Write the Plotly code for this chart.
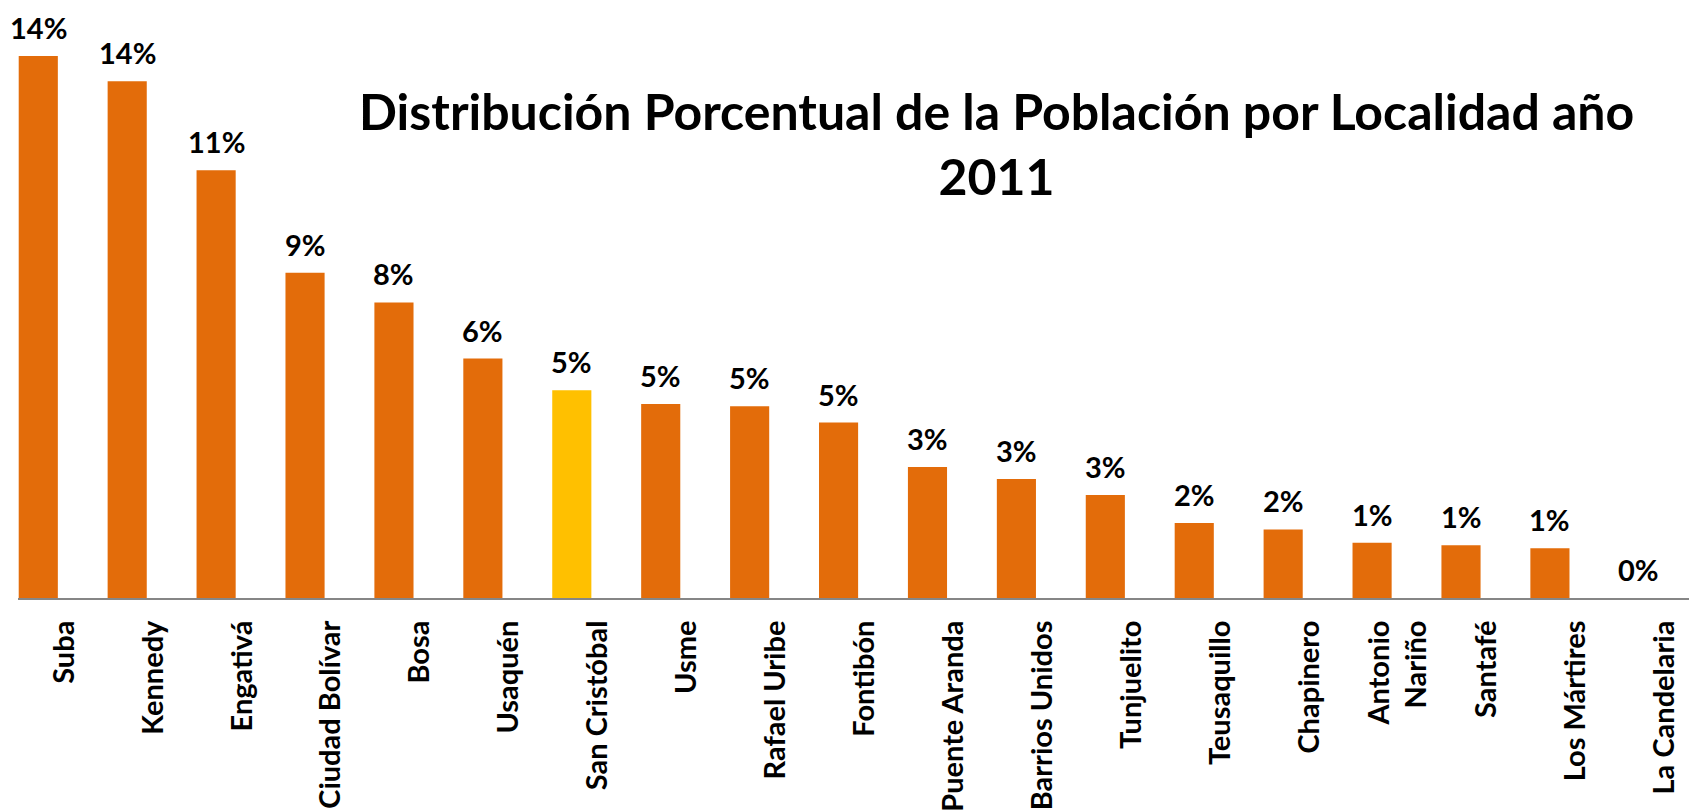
import plotly.graph_objects as go

# Distribución porcentual de la población por localidad, Bogotá 2011
localidades = [
    "Suba", "Kennedy", "Engativá", "Ciudad Bolívar", "Bosa", "Usaquén",
    "San Cristóbal", "Usme", "Rafael Uribe", "Fontibón", "Puente Aranda",
    "Barrios Unidos", "Tunjuelito", "Teusaquillo", "Chapinero",
    "Antonio<br>Nariño", "Santafé", "Los Mártires", "La Candelaria",
]
porcentajes = [
    14.30, 13.64, 11.29, 8.58, 7.80, 6.32,
    5.48, 5.12, 5.06, 4.63, 3.46,
    3.14, 2.72, 1.98, 1.81,
    1.46, 1.39, 1.31, 0.0,
]
destacada = "San Cristóbal"

NARANJA = "#E36C0A"
AMARILLO = "#FFC000"
colores = [AMARILLO if c == destacada else NARANJA for c in localidades]

fig = go.Figure()

fig.add_trace(go.Bar(
    x=localidades,
    y=porcentajes,
    marker=dict(color=colores, line=dict(width=0)),
    hoverinfo="skip",
))

# etiquetas de datos (encima de cada barra)
for loc, val in zip(localidades, porcentajes):
    fig.add_annotation(
        x=loc, y=val,
        text=f"{val:.0f}%",
        showarrow=False,
        yanchor="bottom",
        yshift=9,
        font=dict(family="Lato", size=29, color="black", weight="bold"),
    )

# título
fig.add_annotation(
    text="Distribución Porcentual de la Población por Localidad año<br>2011",
    xref="paper", yref="paper",
    x=0.583, y=0.771,
    xanchor="center", yanchor="middle",
    showarrow=False,
    font=dict(family="Lato", size=50, color="black", weight="bold"),
)

fig.update_layout(
    width=1689,
    height=804,
    margin=dict(l=10, r=0, t=0, b=214),
    plot_bgcolor="white",
    paper_bgcolor="white",
    showlegend=False,
    bargap=0.56,
)

fig.update_xaxes(
    range=[-0.228, 18.654],
    showline=True,
    linecolor="#868686",
    linewidth=2,
    showgrid=False,
    ticks="outside",
    ticklen=9,
    tickcolor="rgba(0,0,0,0)",
    tickangle=-90,
    ticklabelshift=26,
    tickfont=dict(family="Lato", size=29, color="black", weight="bold"),
)
fig.update_yaxes(
    range=[0, 15.57],
    visible=False,
    showgrid=False,
)

fig.write_html("out.html")
